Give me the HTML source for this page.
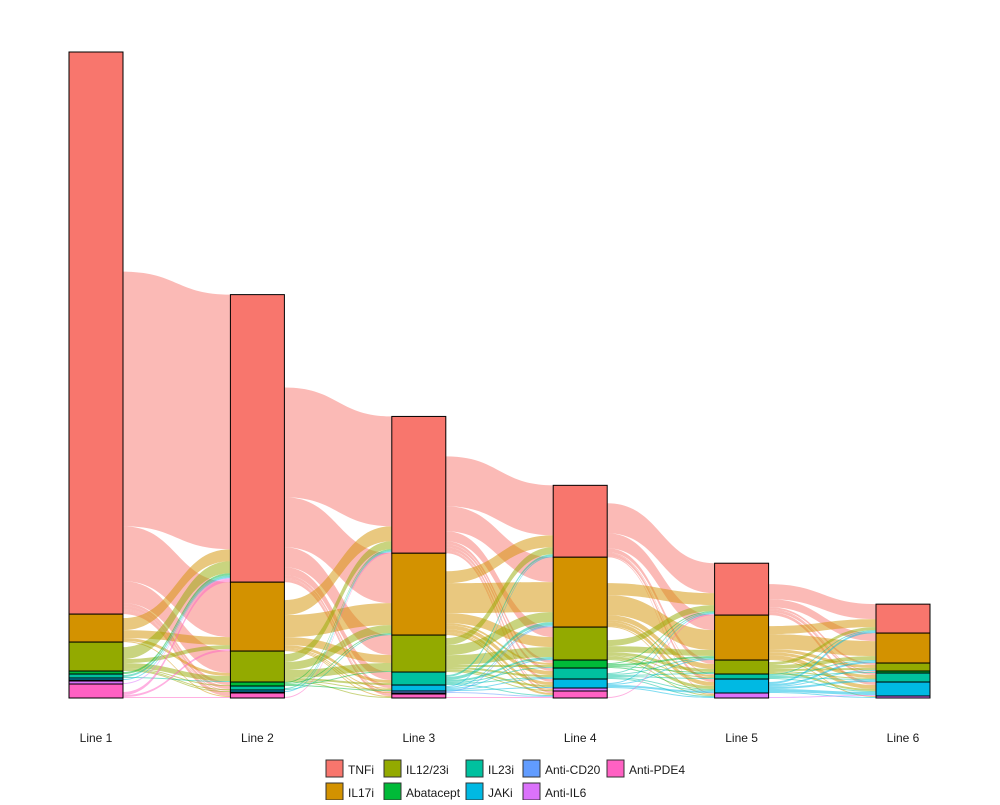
<!DOCTYPE html>
<html><head><meta charset="utf-8"><style>
body{margin:0;background:#fff;font-family:"Liberation Sans",Arial,sans-serif}
svg text{font-family:"Liberation Sans",Arial,sans-serif}
</style></head><body>
<svg id="chart" width="1000" height="800" viewBox="0 0 1000 800" xmlns="http://www.w3.org/2000/svg"></svg>
<script>
const categories=["TNFi","IL17i","IL12/23i","Abatacept","IL23i","JAKi","Anti-CD20","Anti-IL6","Anti-PDE4"];
const lines=["Line 1","Line 2","Line 3","Line 4","Line 5","Line 6"];
const line1=[563,28,29,3,4,2,1,3,14];
const line2=[288,69,31,4,4,2,0,1,5];
const line3=[137,82,37,0,13,6,2,1,4];
const line4=[72,70,33,8,11,9,0,3,7];
const line5=[52,45,14,0,5,14,0,5,0];
const line6=[29,30,8,2,9,14,0,2,0];
const flow12=[[255,55,22,3,3,1,0,1,3],[12,8,3,0,0,0,0,0,1],[12,4,5,1,1,1,0,0,0],[2,0,0,0,0,0,0,0,0],[2,0,1,0,0,0,0,0,0],[1,0,0,0,0,0,0,0,0],[0,0,0,0,0,0,0,0,0],[1,0,0,0,0,0,0,0,0],[3,2,0,0,0,0,0,0,1]];
const flow23=[[110,50,20,0,8,3,1,1,2],[15,22,8,0,3,1,1,0,1],[8,8,8,0,2,1,0,0,1],[1,1,1,0,0,1,0,0,0],[1,1,0,0,0,0,0,0,0],[1,0,0,0,0,0,0,0,0],[0,0,0,0,0,0,0,0,0],[0,0,0,0,0,0,0,0,0],[1,0,0,0,0,0,0,0,0]];
const flow34=[[50,25,10,3,3,3,0,1,2],[12,30,10,2,4,3,0,1,2],[7,10,10,2,2,2,0,1,0],[0,0,0,0,0,0,0,0,0],[2,3,2,1,1,0,0,0,1],[1,1,1,0,1,1,0,0,0],[0,1,0,0,0,0,0,0,1],[0,0,0,0,0,0,0,0,0],[0,0,0,0,0,0,0,0,1]];
const flow45=[[30,15,4,0,1,3,0,1,0],[12,20,5,0,2,4,0,1,0],[6,6,3,0,1,3,0,1,0],[1,2,1,0,0,1,0,0,0],[1,1,1,0,1,1,0,1,0],[1,1,0,0,0,2,0,1,0],[0,0,0,0,0,0,0,0,0],[0,0,0,0,0,0,0,0,0],[1,0,0,0,0,0,0,0,0]];
const flow56=[[15,8,2,1,2,3,0,0,0],[8,15,3,0,3,4,0,1,0],[3,4,2,0,1,2,0,0,0],[0,0,0,0,0,0,0,0,0],[1,1,0,1,1,1,0,0,0],[2,2,1,0,2,3,0,1,0],[0,0,0,0,0,0,0,0,0],[0,0,0,0,0,1,0,0,0],[0,0,0,0,0,0,0,0,0]];
const colors=["#F8766D","#D39200","#93AA00","#00BA38","#00C19F","#00B9E3","#619CFF","#DB72FB","#FF61C3"];
const cols=[line1,line2,line3,line4,line5,line6];
const flows=[flow12,flow23,flow34,flow45,flow56];
const NS="http://www.w3.org/2000/svg";
const svg=document.getElementById('chart');
const base=698, topY=52, W=54;
const maxT=Math.max(...cols.map(c=>c.reduce((a,b)=>a+b,0)));
const k=(base-topY)/maxT;
const xC=i=>96+i*161.4;
function el(t,a){const e=document.createElementNS(NS,t);for(const n in a)e.setAttribute(n,a[n]);svg.appendChild(e);return e;}
// stratum bounds
const bounds=cols.map(c=>{let y=base;const b=[];for(let j=c.length-1;j>=0;j--){const h=c[j]*k;b[j]={top:y-h,bot:y};y-=h;}return b;});
const gF=el('g',{});


flows.forEach((F,i)=>{
  const srcOff=bounds[i].map(b=>b.bot); // stack up from bottom
  const tgtOff=bounds[i+1].map(b=>b.top); // stack down from top
  const srcPos={};
  for(let s=0;s<9;s++){for(let t=8;t>=0;t--){const h=F[s][t]*k;srcPos[s+'_'+t]=[srcOff[s]-h,srcOff[s]];srcOff[s]-=h;}}
  for(let s=0;s<9;s++){for(let t=0;t<9;t++){
    const v=F[s][t];if(!v)continue;const h=v*k;
    const a=srcPos[s+'_'+t];const b0=tgtOff[t];tgtOff[t]+=h;
    const x0=xC(i)+W/2,x1=xC(i+1)-W/2,xm=(x0+x1)/2;
    const p=document.createElementNS(NS,'path');
    p.setAttribute('d',`M${x0},${a[0]} C${xm},${a[0]} ${xm},${b0} ${x1},${b0} L${x1},${b0+h} C${xm},${b0+h} ${xm},${a[1]} ${x0},${a[1]} Z`);
    p.setAttribute('fill',colors[s]);p.setAttribute('fill-opacity','0.5');
    
    
    gF.appendChild(p);
  }}
});
cols.forEach((c,i)=>{
  c.forEach((v,j)=>{
    if(!v)return;const b=bounds[i][j];
    const r=el('rect',{x:xC(i)-W/2,y:b.top,width:W,height:b.bot-b.top,fill:colors[j],stroke:'#000','stroke-width':1});
    
    
  });
  const t=el('text',{x:xC(i),y:742,'text-anchor':'middle','font-size':12,fill:'#1a1a1a'});
  t.textContent=lines[i];
  
  
});
const leg=[[326,760],[326,783],[384,760],[384,783],[466,760],[466,783],[523,760],[523,783],[607,760]];
const legOrder=[0,1,2,3,4,5,6,7,8];
legOrder.forEach((j,n)=>{
  const [x,y]=leg[n];
  const r=el('rect',{x:x,y:y,width:17,height:17,fill:colors[j],stroke:'#333','stroke-width':1});
  
  
  const t=el('text',{x:x+22,y:y+14,'font-size':12,fill:'#1a1a1a'});
  t.textContent=categories[j];
  
  
});
</script>
</body></html>
